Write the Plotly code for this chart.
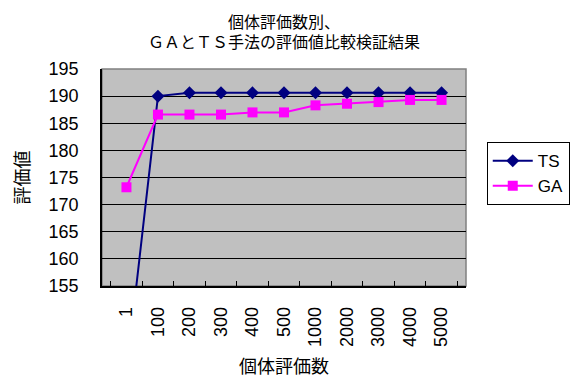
import plotly.graph_objects as go

# Number of evaluated individuals (category labels)
categories = ["1", "100", "200", "300", "400", "500", "1000", "2000", "3000", "4000", "5000"]

# Evaluation values for each method
ts_values = [139.0, 190.0, 190.6, 190.6, 190.6, 190.6, 190.6, 190.6, 190.6, 190.6, 190.6]
ga_values = [173.2, 186.6, 186.6, 186.6, 187.0, 187.0, 188.3, 188.6, 188.9, 189.3, 189.3]

y_ticks = [155, 160, 165, 170, 175, 180, 185, 190, 195]

num_font = "Liberation Sans, Arial, sans-serif"
jp_font = "Noto Sans CJK JP, sans-serif"

fig = go.Figure()

fig.add_trace(go.Scatter(
    x=categories, y=ts_values, name="TS", mode="lines+markers",
    line=dict(color="#000080", width=2),
    marker=dict(symbol="diamond", size=10, color="#000080"),
    cliponaxis=True,
))
fig.add_trace(go.Scatter(
    x=categories, y=ga_values, name="GA", mode="lines+markers",
    line=dict(color="#FF00FF", width=2),
    marker=dict(symbol="square", size=10, color="#FF00FF"),
    cliponaxis=True,
))

fig.update_layout(
    width=585, height=378,
    margin=dict(l=102, r=119, t=69, b=92, autoexpand=False),
    paper_bgcolor="white",
    plot_bgcolor="#C0C0C0",
    title=dict(
        text="個体評価数別、<br>ＧＡとＴＳ手法の評価値比較検証結果",
        xref="paper", x=0.5, xanchor="center",
        yref="container", y=0.927, yanchor="middle",
        font=dict(family=jp_font, size=16, color="black"),
    ),
    showlegend=True,
    legend=dict(
        x=1.057, xanchor="left", y=0.518, yanchor="middle",
        bgcolor="white", bordercolor="black", borderwidth=1,
        font=dict(family=num_font, size=17, color="black"),
        itemwidth=40, tracegroupgap=2,
    ),
    shapes=[dict(
        type="rect", xref="paper", yref="paper", x0=0, x1=1, y0=0, y1=1,
        line=dict(color="#808080", width=1.5), layer="below",
    )],
)

fig.update_xaxes(
    type="category",
    automargin=False,
    tickson="boundaries",
    ticks="inside", ticklen=5, tickcolor="black", tickwidth=1,
    tickangle=-90,
    ticklabelstandoff=12,
    tickfont=dict(family=num_font, size=18, color="black"),
    showline=True, linecolor="black", linewidth=1.5,
    showgrid=False,
    title=dict(text="個体評価数", font=dict(family=jp_font, size=18, color="black"), standoff=15),
)

fig.update_yaxes(
    range=[155, 195],
    automargin=False,
    tickvals=y_ticks,
    ticks="inside", ticklen=5, tickcolor="black", tickwidth=1,
    ticklabelstandoff=18,
    tickfont=dict(family=num_font, size=18, color="black"),
    showline=True, linecolor="black", linewidth=1.5,
    showgrid=True, gridcolor="black", gridwidth=1,
    zeroline=False,
    title=dict(text="評価値", font=dict(family=jp_font, size=18, color="black"), standoff=14),
)

fig.write_html("out.html")
